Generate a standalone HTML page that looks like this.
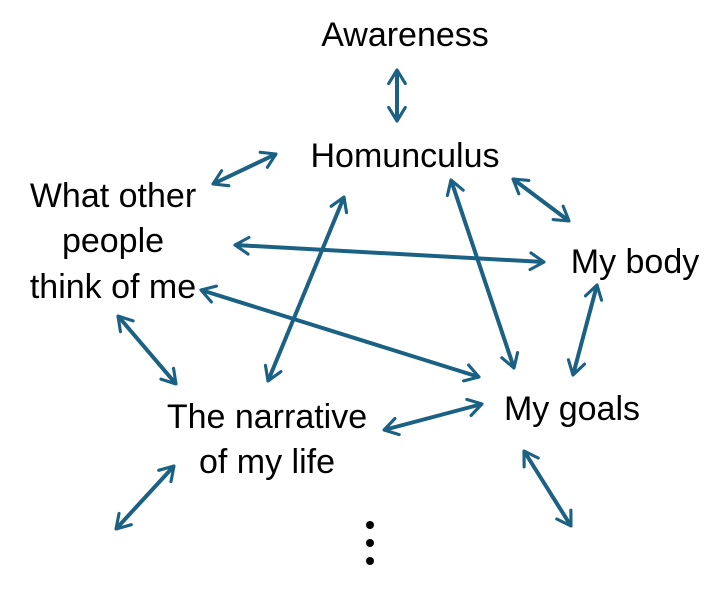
<!DOCTYPE html>
<html><head><style>
body{margin:0;background:#fff;width:725px;height:610px;overflow:hidden}
svg text{font-family:"Liberation Sans",sans-serif;font-size:34px;fill:#000;text-anchor:middle}
</style></head><body>
<svg width="725" height="610" viewBox="0 0 725 610">
<defs>
<marker id="a" viewBox="0 0 10 10" refX="8" refY="5" markerWidth="5.2" markerHeight="5.2" orient="auto-start-reverse" markerUnits="strokeWidth">
<path d="M1.5,1 L8,5 L1.5,9" fill="none" stroke="#1b6184" stroke-width="1.5" stroke-linecap="round" stroke-linejoin="round"/>
</marker>
</defs>
<g stroke="#1b6184" stroke-width="4" fill="none" marker-start="url(#a)" marker-end="url(#a)">
<line x1="397" y1="70" x2="397" y2="121"/>
<line x1="213" y1="184" x2="276" y2="154"/>
<line x1="513" y1="179" x2="569" y2="221"/>
<line x1="235" y1="245" x2="544" y2="262"/>
<line x1="201" y1="290" x2="479" y2="377"/>
<line x1="344" y1="197" x2="268" y2="381"/>
<line x1="451" y1="180" x2="514" y2="368"/>
<line x1="597" y1="285" x2="573" y2="375"/>
<line x1="118" y1="316" x2="176" y2="384"/>
<line x1="384" y1="430" x2="482" y2="404"/>
<line x1="174" y1="466" x2="116" y2="529"/>
<line x1="524" y1="451" x2="571" y2="526"/>
</g>
<text x="405" y="46">Awareness</text>
<text x="405" y="167">Homunculus</text>
<text x="113" y="207">What other</text>
<text x="113" y="252">people</text>
<text x="113" y="298">think of me</text>
<text x="635" y="273">My body</text>
<text x="572" y="420">My goals</text>
<text x="267" y="428">The narrative</text>
<text x="267" y="473">of my life</text>
<circle cx="370" cy="525" r="4" fill="#000"/>
<circle cx="370" cy="543" r="4" fill="#000"/>
<circle cx="370" cy="561" r="4" fill="#000"/>
</svg>
</body></html>
